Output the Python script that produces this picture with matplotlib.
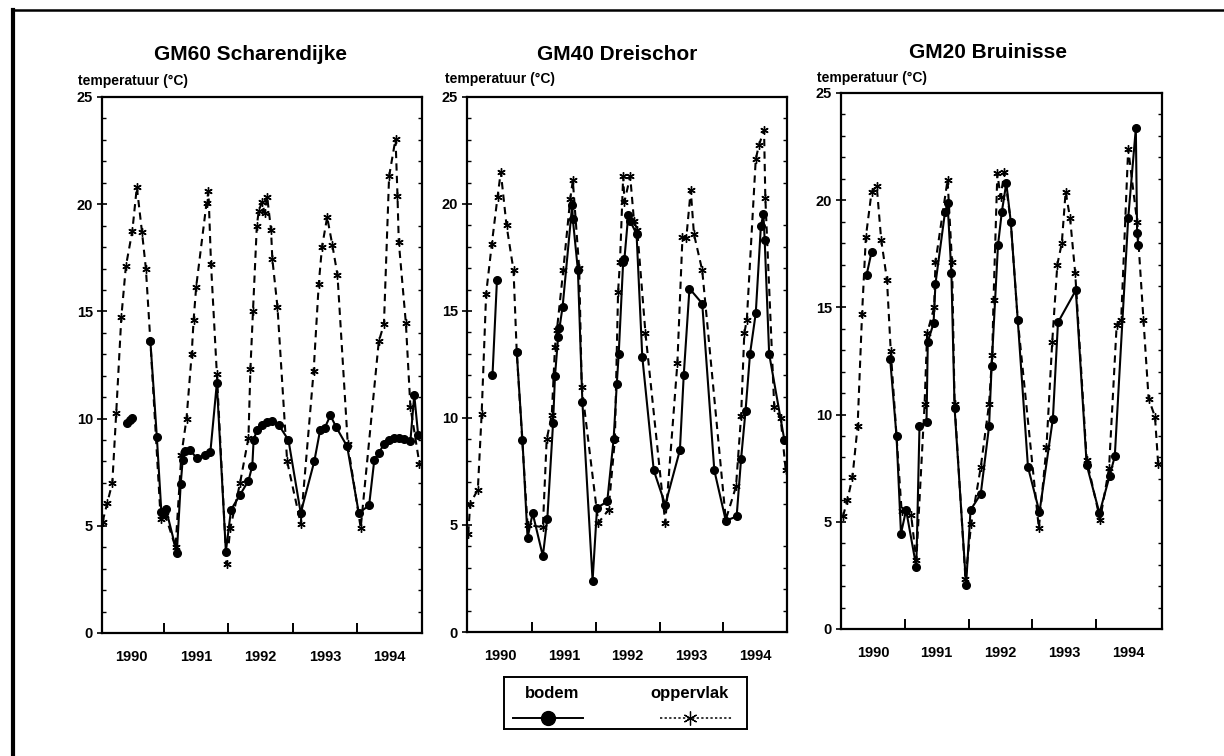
import numpy as np
import matplotlib
matplotlib.use("Agg")
import matplotlib.pyplot as plt
from matplotlib.lines import Line2D
from matplotlib.ticker import FixedLocator, MultipleLocator

plt.rcParams['font.family'] = ['Liberation Sans', 'DejaVu Sans']
plt.rcParams['font.weight'] = 'bold'

nan = np.nan

# GM60 Scharendijke
gm60_bodem_t = [1990.43, 1990.47, 1990.51, nan,
                1990.79, 1990.89, 1990.96, 1991.03, 1991.20, 1991.26, 1991.29, 1991.33,
                1991.40, 1991.51, 1991.63, 1991.72, 1991.82, 1991.96, 1992.04, 1992.18,
                1992.31, 1992.37, 1992.39, 1992.44, 1992.52, 1992.60, 1992.67, 1992.78,
                1992.93, 1993.12, 1993.33, 1993.42, 1993.49, 1993.58, 1993.67, 1993.84,
                1994.02, 1994.18, 1994.26, 1994.33, 1994.41, 1994.49, 1994.57, 1994.64,
                1994.72, 1994.82, 1994.88, 1994.94]
gm60_bodem = [9.8, 9.95, 10.05, nan,
              13.6, 9.15, 5.65, 5.8, 3.75, 6.95, 8.05, 8.5,
              8.55, 8.15, 8.3, 8.45, 11.65, 3.8, 5.75, 6.45,
              7.1, 7.8, 9.0, 9.45, 9.7, 9.85, 9.9, 9.7,
              9.0, 5.6, 8.0, 9.45, 9.55, 10.15, 9.6, 8.7,
              5.6, 5.95, 8.05, 8.4, 8.8, 9.0, 9.1, 9.1,
              9.05, 8.95, 11.1, 9.25]
gm60_opp_t = [1990.05, 1990.12, 1990.20, 1990.26, 1990.34, 1990.41, 1990.51, 1990.58,
              1990.66, 1990.72, 1990.79, 1990.95, 1991.02, 1991.18, 1991.27, 1991.35,
              1991.43, 1991.46, 1991.50, 1991.66, 1991.69, 1991.73, 1991.82, 1991.97,
              1992.03, 1992.18, 1992.31, 1992.34, 1992.38, 1992.44, 1992.47, 1992.52,
              1992.56, 1992.60, 1992.66, 1992.68, 1992.76, 1992.91, 1993.12, 1993.32,
              1993.40, 1993.45, 1993.53, 1993.61, 1993.69, 1993.85, 1994.05, 1994.33,
              1994.41, 1994.49, 1994.59, 1994.62, 1994.64, 1994.75, 1994.82, 1994.96]
gm60_opp = [5.2, 6.05, 7.0, 10.25, 14.75, 17.1, 18.75, 20.8,
            18.7, 17.0, 13.6, 5.3, 5.5, 4.0, 8.3, 10.0,
            13.0, 14.6, 16.15, 20.05, 20.6, 17.2, 12.1, 3.2,
            4.9, 7.0, 9.1, 12.3, 15.0, 19.0, 19.7, 20.1,
            19.6, 20.35, 18.8, 17.45, 15.2, 8.0, 5.1, 12.2,
            16.3, 18.0, 19.4, 18.1, 16.7, 8.8, 4.9, 13.6,
            14.4, 21.3, 23.05, 20.4, 18.25, 14.45, 10.55, 7.9]

# GM40 Dreischor
gm40_bodem_t = [1990.38, 1990.45, nan,
                1990.76, 1990.85, 1990.93, 1991.01, 1991.17, 1991.24, 1991.33, 1991.36,
                1991.41, 1991.43, 1991.48, 1991.63, 1991.64, 1991.72, 1991.79, 1991.95,
                1992.02, 1992.18, 1992.28, 1992.33, 1992.36, 1992.43, 1992.45, 1992.51,
                1992.54, 1992.64, 1992.73, 1992.91, 1993.09, 1993.32, 1993.38, 1993.47,
                1993.67, 1993.86, 1994.04, 1994.21, 1994.28, 1994.35, 1994.42, 1994.51,
                1994.59, 1994.63, 1994.65, 1994.72, 1994.96]
gm40_bodem = [12.0, 16.45, nan,
              13.1, 8.95, 4.4, 5.55, 3.55, 5.3, 9.75, 11.95,
              13.8, 14.2, 15.2, 19.95, 19.3, 16.9, 10.75, 2.4,
              5.8, 6.1, 9.0, 11.6, 13.0, 17.3, 17.45, 19.5,
              19.2, 18.6, 12.85, 7.55, 5.95, 8.5, 12.0, 16.05,
              15.35, 7.55, 5.2, 5.4, 8.1, 10.35, 13.0, 14.9,
              18.95, 19.55, 18.3, 13.0, 8.95]
gm40_opp_t = [1990.00, 1990.03, 1990.15, 1990.21, 1990.28, 1990.37, 1990.46, 1990.51,
              1990.60, 1990.71, 1990.76, 1990.93, 1991.17, 1991.23, 1991.31, 1991.36,
              1991.39, 1991.49, 1991.60, 1991.64, 1991.74, 1991.78, 1992.04, 1992.20,
              1992.30, 1992.35, 1992.38, 1992.43, 1992.45, 1992.54, 1992.60, 1992.65,
              1992.78, 1993.09, 1993.28, 1993.36, 1993.42, 1993.49, 1993.54, 1993.67,
              1994.04, 1994.20, 1994.28, 1994.33, 1994.37, 1994.51, 1994.56, 1994.64,
              1994.66, 1994.80, 1994.90, 1994.98]
gm40_opp = [4.6, 6.0, 6.65, 10.2, 15.8, 18.15, 20.35, 21.5,
            19.0, 16.9, 13.1, 5.0, 4.9, 9.0, 10.15, 13.3,
            14.1, 16.9, 20.25, 21.1, 17.0, 11.45, 5.1, 5.7,
            9.0, 15.9, 17.3, 21.3, 20.1, 21.3, 19.2, 18.8,
            13.95, 5.1, 12.55, 18.45, 18.4, 20.65, 18.6, 16.9,
            5.25, 6.8, 10.1, 13.95, 14.6, 22.1, 22.75, 23.45,
            20.3, 10.5, 10.0, 7.55]

# GM20 Bruinisse
gm20_bodem_t = [1990.40, 1990.48, nan,
                1990.77, 1990.87, 1990.94, 1991.02, 1991.18, 1991.23, 1991.34, 1991.36,
                1991.45, 1991.48, 1991.63, 1991.67, 1991.73, 1991.78, 1991.96, 1992.03,
                1992.19, 1992.32, 1992.36, 1992.46, 1992.52, 1992.59, 1992.66, 1992.77,
                1992.93, 1993.11, 1993.32, 1993.40, 1993.68, 1993.85, 1994.05, 1994.21,
                1994.29, 1994.50, 1994.62, 1994.64, 1994.66]
gm20_bodem = [16.5, 17.6, nan,
              12.6, 9.0, 4.45, 5.55, 2.9, 9.45, 9.65, 13.4,
              14.25, 16.1, 19.45, 19.85, 16.6, 10.3, 2.05, 5.55,
              6.3, 9.45, 12.25, 17.9, 19.45, 20.8, 19.0, 14.4,
              7.55, 5.45, 9.8, 14.3, 15.8, 7.65, 5.4, 7.15,
              8.05, 19.15, 23.35, 18.45, 17.9]
gm20_opp_t = [1990.03, 1990.10, 1990.18, 1990.26, 1990.33, 1990.39, 1990.48, 1990.56,
              1990.63, 1990.72, 1990.78, 1990.95, 1991.10, 1991.18, 1991.31, 1991.35,
              1991.46, 1991.48, 1991.67, 1991.74, 1991.78, 1991.95, 1992.04, 1992.19,
              1992.32, 1992.37, 1992.39, 1992.45, 1992.50, 1992.56, 1992.66, 1992.77,
              1993.10, 1993.22, 1993.31, 1993.39, 1993.46, 1993.52, 1993.59, 1993.67,
              1993.85, 1994.06, 1994.20, 1994.32, 1994.39, 1994.50, 1994.64, 1994.74,
              1994.82, 1994.92, 1994.97]
gm20_opp = [5.25, 6.0, 7.1, 9.45, 14.7, 18.3, 20.4, 20.65,
            18.15, 16.3, 12.95, 5.5, 5.3, 3.2, 10.5, 13.8,
            15.0, 17.1, 20.95, 17.1, 10.5, 2.35, 4.9, 7.55,
            10.5, 12.8, 15.35, 21.25, 20.15, 21.3, 19.0, 14.4,
            4.7, 8.5, 13.4, 17.0, 18.0, 20.4, 19.15, 16.6,
            7.9, 5.1, 7.5, 14.2, 14.4, 22.4, 19.0, 14.4,
            10.75, 9.9, 7.7]

titles = ["GM60 Scharendijke", "GM40 Dreischor", "GM20 Bruinisse"]
years = [1990, 1991, 1992, 1993, 1994]
ylabel = "temperatuur (\u00b0C)"

panels = [
    (gm60_bodem_t, gm60_bodem, gm60_opp_t, gm60_opp),
    (gm40_bodem_t, gm40_bodem, gm40_opp_t, gm40_opp),
    (gm20_bodem_t, gm20_bodem, gm20_opp_t, gm20_opp),
]

W, H = 1224, 756
# axes boxes in pixels: left, top, right, bottom
boxes = [(102, 97, 422, 633), (467, 97, 787, 632), (841, 93, 1162, 629)]
xlims = [(1990.04, 1995.0), (1989.98, 1995.0), (1990.0, 1995.03)]
title_pos = [(250, 55), (617, 55), (988, 53)]
ylab_pos = [(78, 81), (445, 79), (817, 78)]

star = (6, 2, 0)
opp_style = dict(color='black', lw=1.5, ls=(0, (3.5, 2.5)), marker=star, ms=6, mew=1.0)
bod_style = dict(color='black', lw=1.5, ls='-', marker='o', ms=5.5)

fig = plt.figure(figsize=(W / 100, H / 100), dpi=100)

for i, (bt, bv, ot, ov) in enumerate(panels):
    l, t, r, b = boxes[i]
    ax = fig.add_axes([l / W, 1 - b / H, (r - l) / W, (b - t) / H])
    ax.plot(ot, ov, **opp_style)
    ax.plot(bt, bv, **bod_style)
    ax.set_xlim(*xlims[i])
    ax.set_ylim(0, 25)

    ax.yaxis.set_major_locator(MultipleLocator(5))
    ax.yaxis.set_minor_locator(MultipleLocator(1))
    ax.xaxis.set_major_locator(FixedLocator([1991, 1992, 1993, 1994]))
    ax.xaxis.set_minor_locator(FixedLocator([y + 0.5 for y in years]))
    ax.xaxis.set_major_formatter(plt.NullFormatter())
    ax.xaxis.set_minor_formatter(plt.FixedFormatter([str(y) for y in years]))

    ax.tick_params(axis='y', which='major', direction='inout', length=7, width=1.2,
                   labelsize=10.5, pad=3)
    ax.tick_params(axis='y', which='minor', direction='in', length=3, width=1,
                   right=True)
    ax.tick_params(axis='x', which='major', direction='in', length=7, width=1.4)
    ax.tick_params(axis='x', which='minor', length=0, labelsize=10.5, pad=12)
    for lab in ax.get_xticklabels(minor=True) + ax.get_yticklabels():
        lab.set_fontweight('bold')
    for s in ax.spines.values():
        s.set_linewidth(1.6)

    tx, ty = title_pos[i]
    fig.text(tx / W, 1 - ty / H, titles[i], ha='center', va='center',
             fontsize=15, fontweight='bold')
    lx, ly = ylab_pos[i]
    fig.text(lx / W, 1 - ly / H, ylabel, ha='left', va='center', fontsize=10)

# legend box with the labels above the line samples
lg = fig.add_axes([504 / W, 1 - 729 / H, 243 / W, 52 / H])
lg.set_xlim(0, 1)
lg.set_ylim(0, 1)
lg.set_xticks([])
lg.set_yticks([])
for s in lg.spines.values():
    s.set_linewidth(1.4)
lg.text(0.198, 0.68, "bodem", ha='center', va='center', fontsize=12, fontweight='bold')
lg.text(0.765, 0.68, "oppervlak", ha='center', va='center', fontsize=12, fontweight='bold')
lg.plot([0.037, 0.325], [0.22, 0.22], color='black', lw=1.4)
lg.plot([0.181], [0.22], color='black', marker='o', ms=10)
lg.plot([0.642, 0.938], [0.22, 0.22], color='black', lw=1.1, ls=(0, (1.5, 1.5)))
lg.plot([0.765], [0.22], color='black', marker=star, ms=10, mew=0.9)

# frame lines on the left and top
fig.add_artist(Line2D([13 / W, 13 / W], [0, 1 - 10 / H], color='black', lw=3))
fig.add_artist(Line2D([12 / W, 1], [1 - 10 / H, 1 - 10 / H], color='black', lw=1.8))

fig.savefig("out.png", dpi=100)
